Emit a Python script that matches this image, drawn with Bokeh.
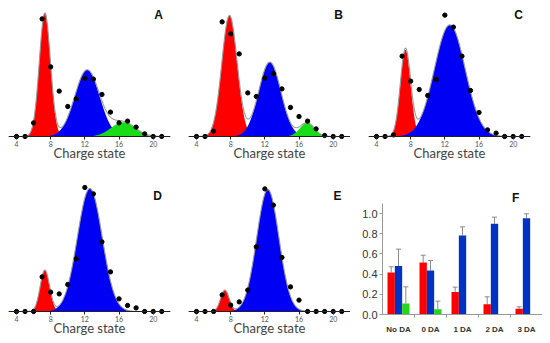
import numpy as np
from bokeh.plotting import figure
from bokeh.layouts import column, row
from bokeh.models import (Range1d, Label, FixedTicker, ColumnDataSource, Whisker, TeeHead,
                          NumeralTickFormatter, Span)
from bokeh.embed import file_html
from bokeh.resources import INLINE

# ---------------- data ----------------
charge_states = list(range(4, 22))
charge_ticks = [4, 8, 12, 16, 20]

obs_A = [0, 0, 0.109, 0.941, 0.557, 0.363, 0.240, 0.301, 0.464, 0.459, 0.336, 0.195, 0.109, 0.123, 0.075, 0.021, 0, 0]
obs_B = [0, 0, 0.043, 0.917, 0.821, 0.661, 0.349, 0.320, 0.467, 0.504, 0.381, 0.232, 0.160, 0.123, 0.061, 0.008, 0, 0]
obs_C = [0, 0, 0.013, 0.643, 0.443, 0.376, 0.328, 0.456, 0.971, 0.875, 0.643, 0.368, 0.192, 0.053, 0.027, 0, 0, 0]
obs_D = [0, 0, 0, 0.277, 0.155, 0.141, 0.216, 0.421, 0.992, 0.941, 0.557, 0.317, 0.101, 0.048, 0.029, 0, 0, 0]
obs_E = [0, 0, 0, 0.133, 0.051, 0.077, 0.171, 0.517, 0.981, 0.851, 0.432, 0.197, 0.091, 0, 0, 0, 0, 0]

# Gaussian components: (centre, sigma, height)
fit_A = {"red": (7.32, 0.65, 0.987), "blue": (12.27, 1.45, 0.533), "green": (16.49, 1.40, 0.115)}
fit_B = {"red": (7.86, 0.90, 0.968), "blue": (12.58, 1.30, 0.595), "green": (16.95, 0.85, 0.109)}
fit_C = {"red": (7.39, 0.60, 0.693), "blue": (12.58, 1.80, 0.893)}
fit_D = {"red": (7.32, 0.55, 0.331), "blue": (12.58, 1.45, 0.984)}
fit_E = {"red": (7.32, 0.50, 0.171), "blue": (12.35, 1.30, 0.976)}

categories = ["No DA", "0 DA", "1 DA", "2 DA", "3 DA"]
frac_red = [0.416, 0.515, 0.224, 0.102, 0.056]
err_red = [0.056, 0.072, 0.047, 0.073, 0.020]
frac_blue = [0.479, 0.436, 0.782, 0.898, 0.954]
err_blue = [0.168, 0.099, 0.086, 0.066, 0.043]
frac_green = [0.109, 0.053, 0.0, 0.0, 0.0]
err_green = [0.165, 0.079, 0.0, 0.0, 0.0]
frac_ticks = [0.0, 0.2, 0.4, 0.6, 0.8, 1.0]

# ---------------- styling ----------------
FILL = {"red": "#ff0000", "blue": "#0000f5", "green": "#18dc18"}
BAR = {"red": "#ff0000", "blue": "#0033c4", "green": "#22d61a"}
PX_PER_UNIT = 125.0   # vertical pixels per unit of relative intensity
ZERO_PAD = 3          # pixels of frame kept below the zero line
X0, X1 = 3.064, 22.025


def gauss(x, c, s, h):
    return h * np.exp(-0.5 * ((x - c) / s) ** 2)


def gauss_panel(letter, obs, fit, width, mb_left, mb_right, height, mb_top, mb_bottom, letter_xy):
    frame_h = height - mb_top - mb_bottom
    y_start = -ZERO_PAD / PX_PER_UNIT
    y_end = (frame_h - ZERO_PAD) / PX_PER_UNIT
    p = figure(width=width, height=height, output_backend="svg", toolbar_location=None,
               x_range=Range1d(X0, X1), y_range=Range1d(y_start, y_end),
               y_axis_location=None, min_border_left=mb_left, min_border_right=mb_right,
               min_border_top=mb_top, min_border_bottom=mb_bottom)
    p.outline_line_color = None
    p.xgrid.visible = False
    p.ygrid.visible = False
    xs = np.linspace(X0, X1, 500)
    total = np.zeros_like(xs)
    for name in ["red", "blue", "green"]:
        if name in fit:
            g = gauss(xs, *fit[name])
            total += g
            p.varea(x=xs, y1=0, y2=g, fill_color=FILL[name])
    p.line(xs, total, line_color="#9a9a9a", line_width=1.1)
    p.add_layout(Span(location=0, dimension="width", line_color="#222222", line_width=1))
    p.scatter(charge_states, obs, size=4.3, color="black")
    ax = p.xaxis[0]
    ax.ticker = FixedTicker(ticks=charge_ticks)
    ax.axis_line_color = None
    ax.major_tick_line_color = "#222222"
    ax.major_tick_out = 0
    ax.major_tick_in = ZERO_PAD
    ax.minor_tick_line_color = None
    ax.major_label_text_font = "Lato"
    ax.major_label_text_font_size = "7px"
    ax.major_label_text_color = "#555555"
    ax.major_label_standoff = 1
    ax.axis_label = "Charge state"
    ax.axis_label_text_font = "Lato"
    ax.axis_label_text_font_style = "normal"
    ax.axis_label_text_font_size = "13px"
    ax.axis_label_text_color = "#444444"
    ax.axis_label_standoff = -5
    p.add_layout(Label(x=letter_xy[0], y=letter_xy[1], text=letter, text_font="Liberation Sans",
                       text_font_style="bold", text_font_size="12px", text_color="#111111",
                       text_align="center", text_baseline="middle"))
    return p


# row 1: height 170, frame 4..139 ; row 2: height 170, frame 174..314
pA = gauss_panel("A", obs_A, fit_A, 180, 8, 10, 170, 4, 31, (20.62, 0.976))
pB = gauss_panel("B", obs_B, fit_B, 170, 8, 0, 170, 4, 31, (20.62, 0.976))
pC = gauss_panel("C", obs_C, fit_C, 192, 18, 12, 170, 4, 31, (20.62, 0.976))
pD = gauss_panel("D", obs_D, fit_D, 180, 8, 10, 170, 4, 26, (20.5, 0.922))
pE = gauss_panel("E", obs_E, fit_E, 170, 8, 0, 170, 4, 26, (20.5, 0.922))

# ---------------- panel F ----------------
F_PX_PER_UNIT = 101.0
f_frame_h = 170 - 4 - 26
pF = figure(width=192, height=170, output_backend="svg", toolbar_location=None,
            x_range=Range1d(-0.5, 4.5), y_range=Range1d(0, f_frame_h / F_PX_PER_UNIT),
            min_border_left=32, min_border_right=0, min_border_top=4, min_border_bottom=26)
pF.outline_line_color = None
pF.xgrid.visible = False
pF.ygrid.visible = False
bw = 0.229
idx = np.arange(len(categories))
offsets = {"red": -bw, "blue": 0.0, "green": bw}
series = {"red": (frac_red, err_red), "blue": (frac_blue, err_blue), "green": (frac_green, err_green)}
for name, (vals, errs) in series.items():
    xs = idx + offsets[name]
    keep = [i for i, v in enumerate(vals) if v > 0]
    pF.vbar(x=[xs[i] for i in keep], top=[vals[i] for i in keep], width=bw,
            fill_color=BAR[name], line_color=None)
    src = ColumnDataSource(dict(base=[xs[i] for i in keep],
                                lower=[vals[i] for i in keep],
                                upper=[vals[i] + errs[i] for i in keep]))
    pF.add_layout(Whisker(source=src, base="base", lower="lower", upper="upper", dimension="height",
                          line_color="#8a8a8a", line_width=1,
                          upper_head=TeeHead(size=5, line_color="#8a8a8a", line_width=1),
                          lower_head=None))

xa = pF.xaxis[0]
xa.ticker = FixedTicker(ticks=list(idx), minor_ticks=[i + 0.5 for i in idx[:-1]])
xa.major_label_overrides = {int(i): c for i, c in enumerate(categories)}
xa.major_tick_out = 0
xa.major_tick_in = 0
xa.minor_tick_out = 3
xa.minor_tick_in = 0
xa.minor_tick_line_color = "#999999"
xa.axis_line_color = "#999999"
xa.major_label_text_font = "Liberation Sans"
xa.major_label_text_font_style = "bold"
xa.major_label_text_font_size = "8px"
xa.major_label_text_color = "#333333"
xa.major_label_standoff = 7

ya = pF.yaxis[0]
ya.ticker = FixedTicker(ticks=frac_ticks)
ya.formatter = NumeralTickFormatter(format="0.0")
ya.bounds = (0, 1.1)
ya.axis_line_color = "#999999"
ya.major_tick_line_color = "#999999"
ya.major_tick_out = 3
ya.major_tick_in = 0
ya.minor_tick_line_color = None
ya.major_label_text_font = "Liberation Sans"
ya.major_label_text_font_size = "11px"
ya.major_label_text_color = "#333333"
ya.major_label_standoff = 2

pF.add_layout(Label(x=3.66, y=1.149, text="F", text_font="Liberation Sans",
                    text_font_style="bold", text_font_size="12px", text_color="#111111",
                    text_align="center", text_baseline="middle"))

layout = column(row(pA, pB, pC), row(pD, pE, pF))
open("out.html", "w").write(file_html(layout, INLINE))
